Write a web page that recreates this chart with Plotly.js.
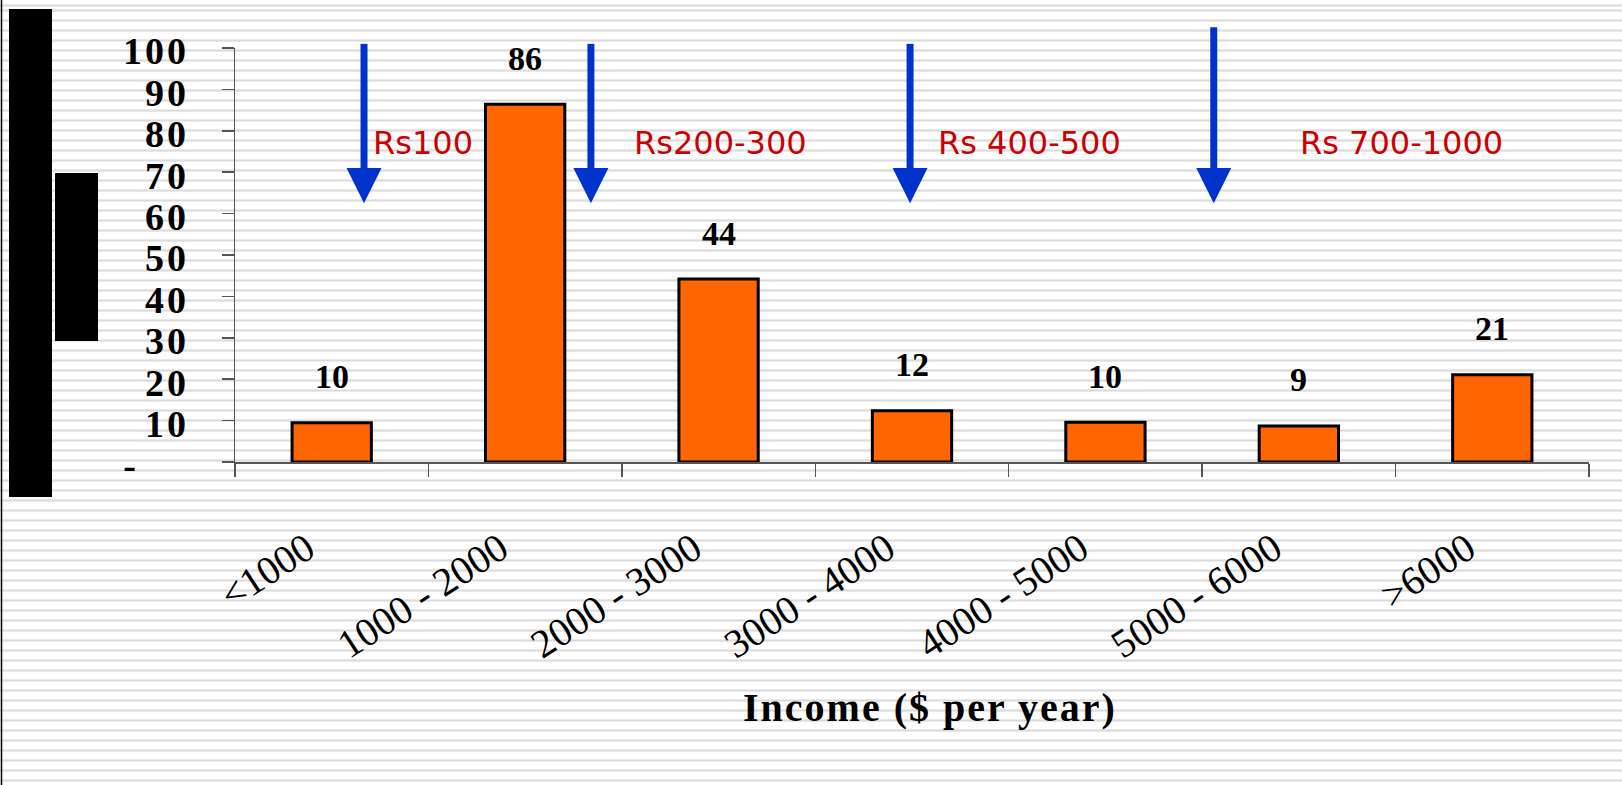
<!DOCTYPE html>
<html>
<head>
<meta charset="utf-8">
<script src="https://cdn.plot.ly/plotly-3.0.1.min.js"></script>
<style>
  html, body { margin: 0; padding: 0; }
  body {
    width: 1622px; height: 785px; overflow: hidden;
    background-color: #ffffff;
    background-image: repeating-linear-gradient(to bottom,
      #e9e9e9 0px, #e9e9e9 1px, #dcdcdc 1px, #dcdcdc 2px, #e9e9e9 2px, #e9e9e9 3px,
      #ffffff 3px, #ffffff 10px);
    background-position: 0 9px;
  }
  #chart { width: 1622px; height: 785px; }
  #chart .ytick text { letter-spacing: 3px; }
  #chart g.annotation[data-index="11"] text { letter-spacing: 2px; }
</style>
</head>
<body>
<div id="chart"></div>
<script>
// ---- data ----
const categories = ['<1000', '1000 - 2000', '2000 - 3000', '3000 - 4000', '4000 - 5000', '5000 - 6000', '>6000'];
const values = [9.5, 86.4, 44.2, 12.4, 9.6, 8.7, 21.1];
const dataLabels = ['10', '86', '44', '12', '10', '9', '21'];
const yTickVals = [0, 10, 20, 30, 40, 50, 60, 70, 80, 90, 100];
const yTickText = ['-\u00a0\u00a0\u00a0\u00a0', '10', '20', '30', '40', '50', '60', '70', '80', '90', '100'];
const xTitle = 'Income ($ per year)';
const priceNotes = ['Rs100', 'Rs200-300', 'Rs 400-500', 'Rs 700-1000'];
const priceNoteX = [0.208, 1.557, 3.128, 5.0];     // category-index units (left edge)
const priceNoteY = 77;
const arrowX = [0.167, 1.34, 2.99, 4.56];          // category-index units
const arrowTop = [101, 101, 101, 105];
const arrowHeadTop = 71;
const arrowTip = 62.5;

// ---- layout geometry ----
const W = 1622, H = 785;
const M = { l: 235, r: 33, t: 48, b: 323 };
const PW = W - M.l - M.r, PH = H - M.t - M.b;
const nCat = categories.length;
const catToPaper = c => (c + 0.5) / nCat;
const pxX = px => (px - M.l) / PW;
const pxY = py => (H - M.b - py) / PH;
const valToPaper = v => v / 100;

const shapes = [];
// left page border line
shapes.push({ type: 'line', xref: 'paper', yref: 'paper', x0: pxX(1.5), x1: pxX(1.5), y0: pxY(0), y1: pxY(785),
  line: { color: '#000', width: 1.5 } });
// black decorative blocks
shapes.push({ type: 'rect', xref: 'paper', yref: 'paper', x0: pxX(9), x1: pxX(52), y0: pxY(9), y1: pxY(497),
  fillcolor: '#000', line: { width: 0 } });
shapes.push({ type: 'rect', xref: 'paper', yref: 'paper', x0: pxX(55), x1: pxX(98), y0: pxY(173), y1: pxY(341),
  fillcolor: '#000', line: { width: 0 } });
// arrows
const shaftHalf = 3.5 / PW, headHalf = 17.5 / PW;
arrowX.forEach((c, i) => {
  const xc = catToPaper(c);
  shapes.push({ type: 'rect', xref: 'paper', yref: 'paper', x0: xc - shaftHalf, x1: xc + shaftHalf,
    y0: valToPaper(arrowHeadTop) - 0.005, y1: valToPaper(arrowTop[i]), fillcolor: '#0033CC', line: { width: 0 } });
  const p = 'M ' + (xc - headHalf) + ' ' + valToPaper(arrowHeadTop) +
            ' L ' + (xc + headHalf) + ' ' + valToPaper(arrowHeadTop) +
            ' L ' + xc + ' ' + valToPaper(arrowTip) + ' Z';
  shapes.push({ type: 'path', xref: 'paper', yref: 'paper', path: p, fillcolor: '#0033CC', line: { width: 0 } });
});

const annotations = [];
// value labels
categories.forEach((c, i) => {
  annotations.push({ x: c, y: values[i], xref: 'x', yref: 'y', text: dataLabels[i], showarrow: false,
    yshift: 46, yanchor: 'middle', xanchor: 'center',
    font: { family: 'Liberation Serif', size: 34, color: '#000', weight: 'bold' } });
});
// price notes
priceNotes.forEach((t, i) => {
  annotations.push({ x: catToPaper(priceNoteX[i]), y: valToPaper(priceNoteY), xref: 'paper', yref: 'paper',
    text: t, showarrow: false, xanchor: 'left', yanchor: 'middle', borderpad: 0,
    font: { family: 'DejaVu Sans', size: 32, color: '#CC0000' } });
});
// x axis title (index 11)
annotations.push({ x: pxX(930), y: pxY(707), xref: 'paper', yref: 'paper', text: xTitle, showarrow: false,
  xanchor: 'center', yanchor: 'middle',
  font: { family: 'Liberation Serif', size: 40, color: '#000', weight: 'bold' } });

const trace = {
  type: 'bar', x: categories, y: values,
  marker: { color: '#FF6600', line: { color: '#000', width: 3 } },
  hoverinfo: 'none'
};

const layout = {
  width: W, height: H,
  margin: M,
  paper_bgcolor: 'rgba(0,0,0,0)', plot_bgcolor: 'rgba(0,0,0,0)',
  showlegend: false,
  bargap: 0.59,
  xaxis: {
    type: 'category', tickson: 'boundaries', ticks: 'outside', ticklen: 13, tickwidth: 1.5, tickcolor: '#555',
    showline: true, linecolor: '#555', linewidth: 1.5, showgrid: false, zeroline: false,
    tickangle: -33, ticklabelstandoff: 46, ticklabelshift: -25,
    tickfont: { family: 'Liberation Serif', size: 40, color: '#000' },
    fixedrange: true
  },
  yaxis: {
    range: [0, 100], tickmode: 'array', tickvals: yTickVals, ticktext: yTickText,
    ticks: 'outside', ticklen: 12, tickwidth: 1.5, tickcolor: '#555',
    showline: true, linecolor: '#555', linewidth: 1.5, showgrid: false, zeroline: false,
    ticklabelstandoff: 25, ticklabelshift: 3,
    tickfont: { family: 'Liberation Serif', size: 38, color: '#000', weight: 'bold' },
    fixedrange: true
  },
  shapes: shapes,
  annotations: annotations
};

Plotly.newPlot('chart', [trace], layout, { displayModeBar: false, staticPlot: true });
</script>
</body>
</html>
